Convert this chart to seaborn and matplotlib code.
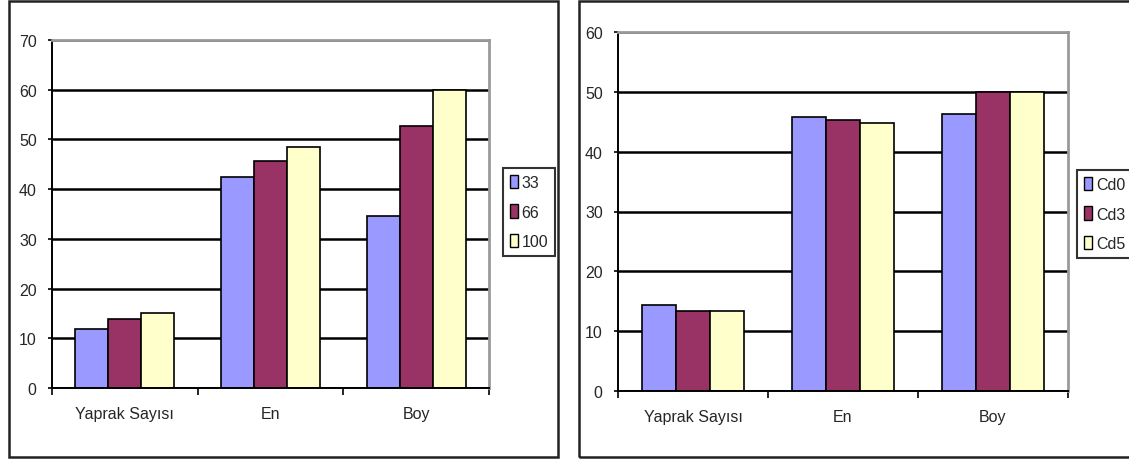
import matplotlib
matplotlib.use("Agg")
import matplotlib.pyplot as plt
from matplotlib.patches import Rectangle, Patch
import pandas as pd
import seaborn as sns

# ---- data ----
categories = ["Yaprak Sayısı", "En", "Boy"]

dose_labels = ["33", "66", "100"]
dose_33 = [11.8, 42.5, 34.5]
dose_66 = [13.9, 45.7, 52.7]
dose_100 = [15.1, 48.4, 60.0]

cd_labels = ["Cd0", "Cd3", "Cd5"]
cd_0 = [14.3, 45.8, 46.3]
cd_3 = [13.3, 45.3, 50.0]
cd_5 = [13.3, 44.8, 50.0]

bar_colors = ["#9999FF", "#993366", "#FFFFCC"]

sns.set_style("white")
plt.rcParams["font.family"] = ["Liberation Sans Narrow", "Liberation Sans", "DejaVu Sans"]

W, H = 1129, 464
fig = plt.figure(figsize=(W / 100, H / 100), dpi=100)
fig.patch.set_facecolor("white")

FS = 11.5


def fx(px):
    return px / W


def fy(py):
    return 1 - py / H


def long_frame(series_labels, series_values):
    rows = []
    for lab, vals in zip(series_labels, series_values):
        for cat, v in zip(categories, vals):
            rows.append({"category": cat, "series": lab, "value": v})
    return pd.DataFrame(rows)


def panel(rect, series_labels, series_values, ymax, legend_box):
    left, top, right, bottom = rect
    ax = fig.add_axes([fx(left), fy(bottom), fx(right - left), fy(top) - fy(bottom)])
    df = long_frame(series_labels, series_values)
    sns.barplot(data=df, x="category", y="value", hue="series",
                order=categories, hue_order=series_labels,
                palette=bar_colors, saturation=1, width=0.68,
                edgecolor="black", linewidth=1.2, legend=False, ax=ax)
    ax.set_xlim(-0.5, 2.5)
    ax.set_ylim(0, ymax)
    ax.set_yticks(range(0, ymax + 1, 10))
    ax.yaxis.grid(True, color="black", linewidth=1.8)
    ax.xaxis.grid(False)
    ax.set_axisbelow(True)
    ax.set_xlabel("")
    ax.set_ylabel("")
    ax.tick_params(axis="y", direction="out", length=3, width=1.2, color="black",
                   pad=8, labelsize=FS, left=True)
    ax.tick_params(axis="x", which="major", length=0, pad=13, labelsize=FS)
    ax.set_xticks([-0.5, 0.5, 1.5, 2.5], minor=True)
    ax.tick_params(axis="x", which="minor", direction="out", length=5, width=1.2,
                   color="black", bottom=True)
    for s in ("left", "bottom"):
        ax.spines[s].set_color("black")
        ax.spines[s].set_linewidth(1.4)
    for s in ("top", "right"):
        ax.spines[s].set_color("#9a9a9a")
        ax.spines[s].set_linewidth(2.0)

    handles = [Patch(facecolor=c, edgecolor="black", linewidth=1.0, label=l)
               for c, l in zip(bar_colors, series_labels)]
    lx0, ly0, lx1, ly1 = legend_box
    leg = fig.legend(handles=handles, loc="center",
                     bbox_to_anchor=(fx((lx0 + lx1) / 2), fy((ly0 + ly1) / 2)),
                     bbox_transform=fig.transFigure, frameon=True, fancybox=False,
                     edgecolor="black", fontsize=FS, handlelength=0.5,
                     handleheight=0.9, handletextpad=0.25, labelspacing=0.9,
                     borderpad=0.45, borderaxespad=0)
    leg.get_frame().set_linewidth(1.5)
    return ax


panel((52, 41, 489, 389), dose_labels, [dose_33, dose_66, dose_100], 70,
      (504, 158, 554, 268))
panel((618, 33, 1068, 392), cd_labels, [cd_0, cd_3, cd_5], 60,
      (1082, 162, 1128, 268))

# chart-area borders
fig.patches.append(Rectangle((fx(9), fy(458)), fx(558 - 9), fy(2) - fy(458),
                             transform=fig.transFigure, fill=False,
                             edgecolor="#222222", linewidth=1.8))
fig.patches.append(Rectangle((fx(579), fy(458)), fx(1140 - 579), fy(2) - fy(458),
                             transform=fig.transFigure, fill=False,
                             edgecolor="#222222", linewidth=1.8))

fig.savefig("out.png", dpi=100, facecolor="white")
